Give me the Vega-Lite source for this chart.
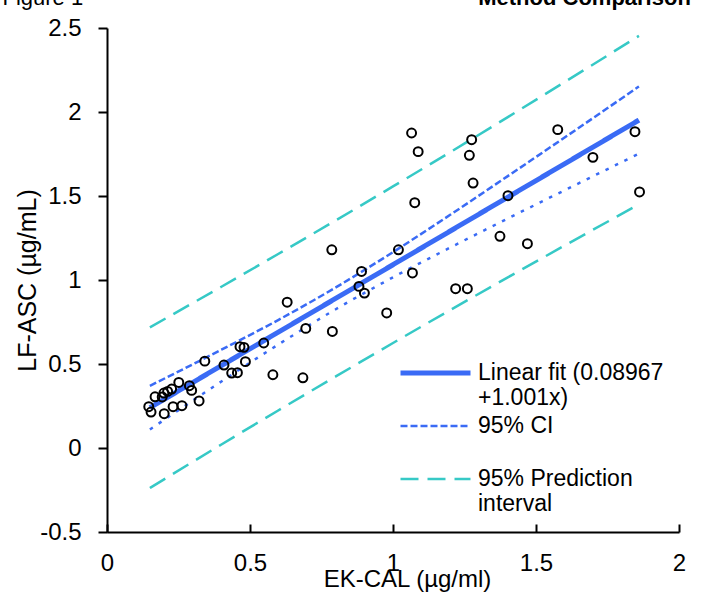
{
  "$schema": "https://vega.github.io/schema/vega-lite/v6.json",
  "width": 572,
  "height": 504,
  "autosize": {"type": "none"},
  "padding": {"left": 107, "top": 28, "right": 27, "bottom": 65},
  "background": "white",
  "config": {
    "font": "Liberation Sans",
    "view": {"stroke": null},
    "axis": {"grid": false, "labelColor": "black", "titleColor": "black", "domainColor": "black", "tickColor": "black", "titleFontWeight": "normal"}
  },
  "resolve": {"axis": {"x": "independent", "y": "independent"}},
  "datasets": {
    "points": [
      {"x": 0.146, "y": 0.246}, {"x": 0.154, "y": 0.214}, {"x": 0.168, "y": 0.305}, {"x": 0.193, "y": 0.304},
      {"x": 0.199, "y": 0.327}, {"x": 0.200, "y": 0.204}, {"x": 0.212, "y": 0.337}, {"x": 0.226, "y": 0.351},
      {"x": 0.231, "y": 0.246}, {"x": 0.251, "y": 0.390}, {"x": 0.262, "y": 0.252}, {"x": 0.288, "y": 0.371},
      {"x": 0.296, "y": 0.343}, {"x": 0.322, "y": 0.280}, {"x": 0.342, "y": 0.517}, {"x": 0.409, "y": 0.494},
      {"x": 0.436, "y": 0.446}, {"x": 0.456, "y": 0.448}, {"x": 0.465, "y": 0.603}, {"x": 0.479, "y": 0.599},
      {"x": 0.484, "y": 0.514}, {"x": 0.548, "y": 0.625}, {"x": 0.580, "y": 0.436}, {"x": 0.630, "y": 0.868},
      {"x": 0.685, "y": 0.418}, {"x": 0.695, "y": 0.712}, {"x": 0.786, "y": 1.180}, {"x": 0.788, "y": 0.694},
      {"x": 0.881, "y": 0.962}, {"x": 0.890, "y": 1.051}, {"x": 0.900, "y": 0.922}, {"x": 0.978, "y": 0.804},
      {"x": 1.019, "y": 1.180}, {"x": 1.065, "y": 1.875}, {"x": 1.068, "y": 1.042}, {"x": 1.076, "y": 1.460},
      {"x": 1.088, "y": 1.764}, {"x": 1.219, "y": 0.948}, {"x": 1.260, "y": 0.948}, {"x": 1.267, "y": 1.742},
      {"x": 1.275, "y": 1.835}, {"x": 1.280, "y": 1.577}, {"x": 1.374, "y": 1.260}, {"x": 1.402, "y": 1.502},
      {"x": 1.470, "y": 1.216}, {"x": 1.576, "y": 1.895}, {"x": 1.699, "y": 1.730}, {"x": 1.846, "y": 1.883},
      {"x": 1.862, "y": 1.524}
    ],
    "lines": [
      {"series": "Linear fit (0.08967 +1.001x)", "part": "fit", "x": 0.15, "y": 0.240},
      {"series": "Linear fit (0.08967 +1.001x)", "part": "fit", "x": 1.86, "y": 1.952},
      {"series": "95% CI", "part": "upper", "x": 0.15, "y": 0.370},
      {"series": "95% CI", "part": "upper", "x": 0.4, "y": 0.585},
      {"series": "95% CI", "part": "upper", "x": 0.6, "y": 0.763},
      {"series": "95% CI", "part": "upper", "x": 0.8, "y": 0.956},
      {"series": "95% CI", "part": "upper", "x": 1.0, "y": 1.166},
      {"series": "95% CI", "part": "upper", "x": 1.2, "y": 1.388},
      {"series": "95% CI", "part": "upper", "x": 1.4, "y": 1.617},
      {"series": "95% CI", "part": "upper", "x": 1.6, "y": 1.848},
      {"series": "95% CI", "part": "upper", "x": 1.86, "y": 2.152},
      {"series": "95% CI", "part": "lower", "x": 0.15, "y": 0.110},
      {"series": "95% CI", "part": "lower", "x": 0.4, "y": 0.396},
      {"series": "95% CI", "part": "lower", "x": 0.6, "y": 0.617},
      {"series": "95% CI", "part": "lower", "x": 0.8, "y": 0.826},
      {"series": "95% CI", "part": "lower", "x": 1.0, "y": 1.016},
      {"series": "95% CI", "part": "lower", "x": 1.2, "y": 1.193},
      {"series": "95% CI", "part": "lower", "x": 1.4, "y": 1.365},
      {"series": "95% CI", "part": "lower", "x": 1.6, "y": 1.534},
      {"series": "95% CI", "part": "lower", "x": 1.86, "y": 1.752},
      {"series": "95% Prediction interval", "part": "upper", "x": 0.15, "y": 0.718},
      {"series": "95% Prediction interval", "part": "upper", "x": 0.4, "y": 0.960},
      {"series": "95% Prediction interval", "part": "upper", "x": 0.6, "y": 1.156},
      {"series": "95% Prediction interval", "part": "upper", "x": 0.8, "y": 1.355},
      {"series": "95% Prediction interval", "part": "upper", "x": 1.0, "y": 1.557},
      {"series": "95% Prediction interval", "part": "upper", "x": 1.2, "y": 1.761},
      {"series": "95% Prediction interval", "part": "upper", "x": 1.4, "y": 1.968},
      {"series": "95% Prediction interval", "part": "upper", "x": 1.6, "y": 2.178},
      {"series": "95% Prediction interval", "part": "upper", "x": 1.86, "y": 2.453},
      {"series": "95% Prediction interval", "part": "lower", "x": 0.15, "y": -0.238},
      {"series": "95% Prediction interval", "part": "lower", "x": 0.4, "y": 0.021},
      {"series": "95% Prediction interval", "part": "lower", "x": 0.6, "y": 0.225},
      {"series": "95% Prediction interval", "part": "lower", "x": 0.8, "y": 0.426},
      {"series": "95% Prediction interval", "part": "lower", "x": 1.0, "y": 0.625},
      {"series": "95% Prediction interval", "part": "lower", "x": 1.2, "y": 0.821},
      {"series": "95% Prediction interval", "part": "lower", "x": 1.4, "y": 1.014},
      {"series": "95% Prediction interval", "part": "lower", "x": 1.6, "y": 1.205},
      {"series": "95% Prediction interval", "part": "lower", "x": 1.86, "y": 1.450}
    ]
  },
  "layer": [
    {
      "data": {"name": "lines"},
      "transform": [{"filter": "!(datum.series == '95% CI' && datum.part == 'lower')"}],
      "mark": {"type": "line", "interpolate": "monotone"},
      "encoding": {
        "x": {"field": "x", "type": "quantitative", "scale": {"domain": [0, 2], "nice": false},
          "axis": {"orient": "bottom", "values": [0, 0.5, 1, 1.5, 2], "title": "EK-CAL (µg/ml)", "domainWidth": 2, "tickWidth": 2, "tickSize": -8,
            "labelFontSize": 24, "labelPadding": 27, "labelExpr": "datum.value + ''", "labelFlush": false,
            "titleFontSize": 24, "titlePadding": -8, "titleX": 300}},
        "y": {"field": "y", "type": "quantitative", "scale": {"domain": [-0.5, 2.5], "nice": false},
          "axis": {"orient": "left", "values": [-0.5, 0, 0.5, 1, 1.5, 2, 2.5], "title": "LF-ASC (µg/mL)", "domainWidth": 2, "tickWidth": 2, "tickSize": 9,
            "labelFontSize": 24, "labelPadding": 17, "labelExpr": "datum.value + ''", "labelFlush": false,
            "titleFontSize": 25, "titlePadding": -1}},
        "detail": {"field": "part"},
        "color": {"field": "series", "type": "nominal",
          "scale": {"domain": ["Linear fit (0.08967 +1.001x)", "95% CI", "95% Prediction interval"], "range": ["#3a6bf5", "#3a6bf5", "#36c9c6"]},
          "legend": {"orient": "none", "legendX": 291, "legendY": 332, "title": null, "symbolType": "stroke", "symbolSize": 4900,
            "clipHeight": 26, "labelFontSize": 23, "labelOffset": 5, "rowPadding": 3, "labelLimit": 0, "padding": 0, "labelColor": "black",
            "labelExpr": "datum.label == '95% CI' ? ['95% CI', ''] : (datum.label == '95% Prediction interval' ? ['95% Prediction', 'interval'] : ['Linear fit (0.08967', '+1.001x)'])"}},
        "strokeDash": {"field": "series", "type": "nominal",
          "scale": {"domain": ["Linear fit (0.08967 +1.001x)", "95% CI", "95% Prediction interval"], "range": [[1, 0], [7, 3], [18, 9]]}},
        "strokeWidth": {"field": "series", "type": "ordinal",
          "scale": {"type": "ordinal", "domain": ["Linear fit (0.08967 +1.001x)", "95% CI", "95% Prediction interval"], "range": [5, 2.5, 2.5]}}
      }
    },
    {
      "data": {"name": "lines"},
      "transform": [{"filter": "datum.series == '95% CI' && datum.part == 'lower'"}],
      "mark": {"type": "line", "interpolate": "monotone", "color": "#3a6bf5", "strokeDash": [3.5, 7], "strokeWidth": 2.5},
      "encoding": {
        "x": {"field": "x", "type": "quantitative", "axis": null},
        "y": {"field": "y", "type": "quantitative",
          "axis": {"orient": "right", "title": "Method Comparison", "labels": false, "ticks": false, "domain": false, "titleAngle": 0,
            "titleAlign": "center", "titleX": -95, "titleY": -24, "titleBaseline": "alphabetic", "titleFontSize": 22, "titleFontWeight": "bold", "titlePadding": 0}}
      }
    },
    {
      "data": {"name": "points"},
      "mark": {"type": "point", "shape": "circle", "filled": false, "stroke": "black", "strokeWidth": 2, "size": 80, "opacity": 1},
      "encoding": {
        "x": {"field": "x", "type": "quantitative",
          "axis": {"orient": "top", "title": "Figure 1", "labels": false, "ticks": false, "domain": false, "titleAnchor": "start", "titleAlign": "left",
            "titleX": -105, "titleY": -24, "titleBaseline": "alphabetic", "titleFontSize": 22, "titlePadding": 0}},
        "y": {"field": "y", "type": "quantitative", "axis": null}
      }
    }
  ]
}
